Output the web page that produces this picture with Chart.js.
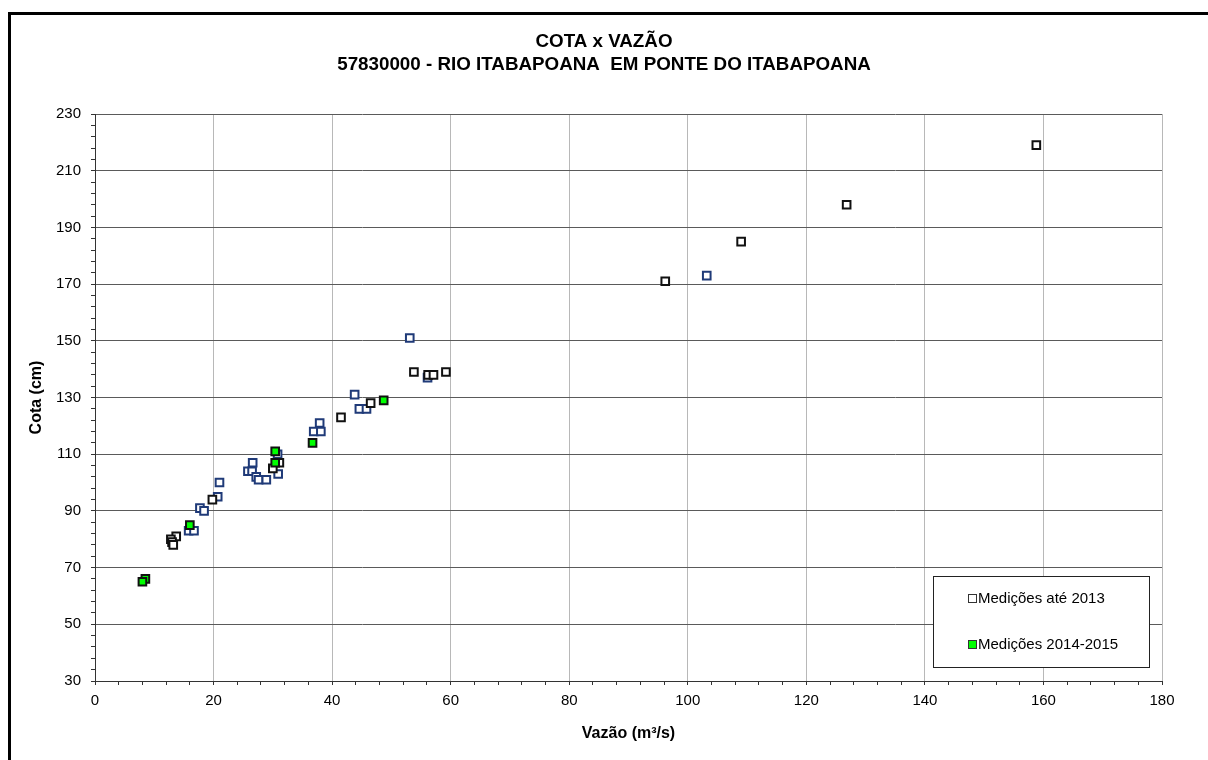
<!DOCTYPE html>
<html>
<head>
<meta charset="utf-8">
<script src="https://cdn.jsdelivr.net/npm/chart.js@4.4.0/dist/chart.umd.min.js"></script>
<style>
  html, body { margin: 0; padding: 0; background: #fff; }
  #wrap { position: relative; width: 1208px; height: 760px; overflow: hidden; background: #fff; }
  #wrap canvas { position: absolute; left: 0; top: 0; }
  #frame { position: absolute; left: 8px; top: 12px; width: 1400px; height: 1000px;
           border-left: 3px solid #000; border-top: 3px solid #000; pointer-events: none; }
</style>
</head>
<body>
<div id="wrap">
  <canvas id="chart" width="1208" height="760"></canvas>
  <div id="frame"></div>
</div>
<script>
// Titles and axis labels
const titleLines = ['COTA x VAZÃO', '57830000 - RIO ITABAPOANA  EM PONTE DO ITABAPOANA'];
const xTitle = 'Vazão (m³/s)';
const yTitle = 'Cota (cm)';

// Labelled (major) ticks; minor tick marks every 4 units
const xMajorTicks = [0, 20, 40, 60, 80, 100, 120, 140, 160, 180];
const yMajorTicks = [30, 50, 70, 90, 110, 130, 150, 170, 190, 210, 230];
const minorStep = 4;

// Measurements up to 2013 (black outline)
const flowOldBlack  = [158.8, 126.8, 109.0, 96.2, 53.8, 59.2, 56.2, 57.1, 46.5, 41.5, 31.1, 30.0, 19.8, 13.7, 12.8, 13.0, 13.2];
const stageOldBlack = [219,   198,   185,   171,  139,  139,  138,  138,  128,  123,  107,  105,  94,   81,   80,   79,   78];

// Measurements up to 2013 (blue outline)
const flowOldBlue  = [103.2, 53.1, 56.1, 43.8, 44.6, 45.8, 37.9, 36.9, 38.1, 30.8, 30.9, 26.6, 25.8, 26.5, 27.2, 27.6, 28.9, 21.0, 20.7, 17.7, 18.4, 15.8, 16.7];
const stageOldBlue = [173,   151,  137,  131,  126,  126,  121,  118,  118,  110,  103,  107,  104,  104,  102,  101,  101,  100,  95,   91,   90,   83,   83];

// Measurements 2014-2015 (green)
const flowNew  = [48.7, 36.7, 30.4, 30.4, 16.0, 8.5, 8.0];
const stageNew = [129,  114,  111,  107,  85,   66,  65];

const pairs = (xs, ys) => xs.map((x, i) => ({ x: x, y: ys[i] }));

const FONT = '"Liberation Sans", Arial, Helvetica, sans-serif';

function minorTicks(min, max) {
  const out = [];
  for (let v = min; v <= max + 1e-9; v += minorStep) out.push({ value: v });
  return out;
}

// Chart title lines
const titlePlugin = {
  id: 'stackedTitle',
  afterDraw(chart) {
    const ctx = chart.ctx;
    ctx.save();
    ctx.fillStyle = '#000';
    ctx.font = 'bold 18.8px ' + FONT;
    ctx.textAlign = 'center';
    ctx.textBaseline = 'middle';
    const cx = chart.width / 2;
    ctx.fillText(titleLines[0], cx, 42);
    ctx.fillText(titleLines[1], cx, 65);
    ctx.restore();
  }
};

// Boxed legend inside the plot area
const boxLegendPlugin = {
  id: 'boxLegend',
  afterDatasetsDraw(chart) {
    const ctx = chart.ctx;
    const seen = new Set();
    const entries = [];
    chart.data.datasets.forEach(ds => {
      if (seen.has(ds.label)) return;
      seen.add(ds.label);
      entries.push(ds);
    });
    entries.sort((a, b) => a.legendRank - b.legendRank);
    const bx = 933.5, by = 576.5, bw = 216, bh = 91;
    ctx.save();
    ctx.fillStyle = '#fff';
    ctx.fillRect(bx, by, bw, bh);
    ctx.strokeStyle = '#222';
    ctx.lineWidth = 1;
    ctx.strokeRect(bx, by, bw, bh);
    ctx.font = '15px ' + FONT;
    ctx.textBaseline = 'middle';
    ctx.textAlign = 'left';
    entries.forEach((ds, i) => {
      const cy = 599 + i * 46;
      ctx.fillStyle = ds.backgroundColor;
      ctx.fillRect(968.5, cy - 4.5, 8, 8);
      ctx.strokeStyle = '#333';
      ctx.strokeRect(968.5, cy - 4.5, 8, 8);
      ctx.fillStyle = '#000';
      ctx.fillText(ds.label, 978, cy);
    });
    ctx.restore();
  }
};

const pointBase = { pointStyle: 'rect', pointRadius: 5.4, pointBorderWidth: 2, showLine: false };

new Chart(document.getElementById('chart'), {
  type: 'scatter',
  data: {
    datasets: [
      Object.assign({ label: 'Medições 2014-2015', legendRank: 1, data: pairs(flowNew, stageNew),
        backgroundColor: '#00ff00', borderColor: '#111', pointBackgroundColor: '#00ff00', pointBorderColor: '#111' }, pointBase),
      Object.assign({ label: 'Medições até 2013', legendRank: 0, data: pairs(flowOldBlack, stageOldBlack),
        backgroundColor: '#ffffff', borderColor: '#111', pointBackgroundColor: '#ffffff', pointBorderColor: '#111' }, pointBase),
      Object.assign({ label: 'Medições até 2013', legendRank: 0, data: pairs(flowOldBlue, stageOldBlue),
        backgroundColor: '#ffffff', borderColor: '#1f3a78', pointBackgroundColor: '#ffffff', pointBorderColor: '#1f3a78' }, pointBase)
    ]
  },
  options: {
    responsive: false,
    animation: false,
    events: [],
    layout: { padding: { top: 114, right: 46, left: 0, bottom: 0 } },
    plugins: { legend: { display: false }, tooltip: { enabled: false }, title: { display: false } },
    scales: {
      x: {
        type: 'linear', min: xMajorTicks[0], max: xMajorTicks[xMajorTicks.length - 1],
        afterFit(s) { s.height = 79; },
        afterBuildTicks(s) { s.ticks = minorTicks(s.min, s.max); },
        ticks: {
          autoSkip: false, maxRotation: 0, padding: 7, color: '#000',
          font: { family: FONT, size: 15 },
          callback: v => xMajorTicks.includes(v) ? String(v) : ''
        },
        grid: {
          color: c => (c.tick && xMajorTicks.includes(c.tick.value)) ? '#b8b8b8' : 'rgba(0,0,0,0)',
          tickColor: '#333', tickLength: 4, drawTicks: true, lineWidth: 1
        },
        border: { color: '#333', width: 1 },
        title: { display: true, text: xTitle, color: '#000', font: { family: FONT, size: 16, weight: 'bold' },
                 padding: { top: 0, bottom: 17 } }
      },
      y: {
        type: 'linear', min: yMajorTicks[0], max: yMajorTicks[yMajorTicks.length - 1],
        afterFit(s) { s.width = 95; },
        afterBuildTicks(s) { s.ticks = minorTicks(s.min, s.max); },
        ticks: {
          autoSkip: false, padding: 10, color: '#000',
          font: { family: FONT, size: 15 },
          callback: v => yMajorTicks.includes(v) ? String(v) : ''
        },
        grid: {
          color: c => (c.tick && yMajorTicks.includes(c.tick.value)) ? '#5a5a5a' : 'rgba(0,0,0,0)',
          tickColor: '#333', tickLength: 4, drawTicks: true, lineWidth: 1
        },
        border: { color: '#333', width: 1 },
        title: { display: true, text: yTitle, color: '#000', font: { family: FONT, size: 16, weight: 'bold' },
                 padding: { top: 27, bottom: 0 } }
      }
    }
  },
  plugins: [titlePlugin, boxLegendPlugin]
});
</script>
</body>
</html>
